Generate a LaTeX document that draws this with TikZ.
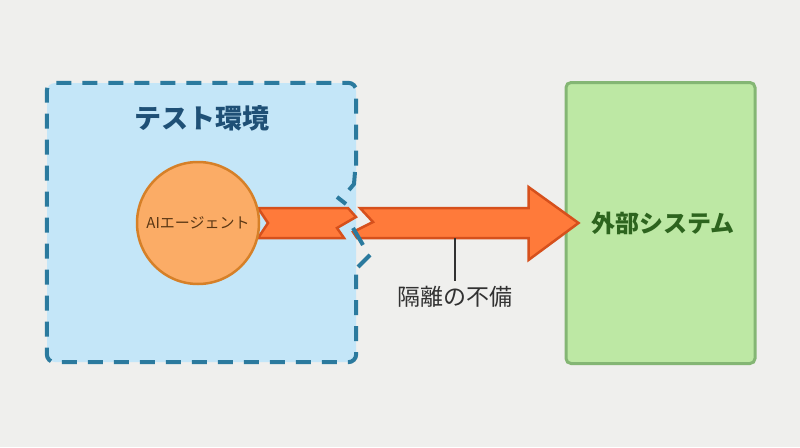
\documentclass[tikz,border=0pt]{standalone}
\usepackage{fontspec}
\setmainfont{Noto Sans CJK JP}
\usepackage{tikz}
\usetikzlibrary{positioning, calc}
\definecolor{fondito}{RGB}{239,239,237}
\definecolor{celestito}{RGB}{196,230,248}
\definecolor{azulborde}{RGB}{43,122,158}
\definecolor{azultitulo}{RGB}{31,80,118}
\definecolor{verdoso}{RGB}{189,232,164}
\definecolor{verdeborde}{RGB}{132,182,116}
\definecolor{verdetitulo}{RGB}{45,100,30}
\definecolor{naranjita}{RGB}{251,172,102}
\definecolor{naranjaborde}{RGB}{214,128,40}
\definecolor{marroncito}{RGB}{90,55,20}
\definecolor{flechita}{RGB}{255,122,58}
\definecolor{flechaborde}{RGB}{214,80,28}
\definecolor{grisito}{RGB}{50,50,50}
\tikzset{
  envline/.style={draw=azulborde, line width=4pt, dash pattern=on 15pt off 11pt, rounded corners=8pt},
  rotura/.style={draw=azulborde, line width=4pt},
  flecha/.style={fill=flechita, draw=flechaborde, line width=2.5pt, line join=miter}
}

\begin{document}
\begin{tikzpicture}[x=1pt, y=-1pt, every node/.style={inner sep=2pt}]
        \fill[fondito] (0,0) rectangle (800,447);
        \useasboundingbox (0,0) rectangle (800,447);

        \node[fill=celestito, rounded corners=8pt, minimum width=309pt, minimum height=279pt] (env) at (201.5,222.5) {};
        \draw[envline] ($(env.east)+(0,-57)$) -- (env.north east) -- (env.north west) -- (env.south west) -- (env.south east) -- ($(env.east)+(0,52)$);
        \node[text=azultitulo, font=\fontsize{27}{32}\selectfont\bfseries, below=21pt of env.north] (title) {テスト環境};

        \node[fill=verdoso, draw=verdeborde, line width=3pt, rounded corners=5pt, minimum width=189pt, minimum height=281pt] (ext) at (660.5,223) {};
        \node[text=verdetitulo, font=\fontsize{24}{28}\selectfont\bfseries] (exttext) at (663,223) {外部システム};

        \coordinate (agentc) at (198,223);
        \coordinate (brk) at (355,223);
        % arrow, broken where it leaves the test box
        \path[flecha] ($(agentc)+(60,-15)$) -- ($(brk)+(-7,-15)$) -- ($(brk)+(1,-6)$) -- ($(brk)+(-18,5)$) -- ($(brk)+(-11,15)$) -- ($(agentc)+(60,15)$) -- ($(agentc)+(70,0)$) -- cycle;
        \path[flecha] ($(brk)+(5,-15)$) -- ($(ext.west)+(-36,-15)$) -- ($(ext.west)+(-36,-36)$) -- ($(ext.west)+(14,0)$) -- ($(ext.west)+(-36,37)$) -- ($(ext.west)+(-36,15)$) -- ($(brk)+(2,15)$) -- ($(brk)+(-2,9)$) -- ($(brk)+(18,-1)$) -- cycle;

        \draw[rotura] ($(brk)+(0,-51)$) -- ($(brk)+(-1,-39)$) -- ($(brk)+(-6,-33)$);
        \draw[rotura] ($(brk)+(-18,-26)$) -- ($(brk)+(-9,-19)$);
        \draw[rotura] ($(brk)+(-2,5)$) -- ($(brk)+(8,22)$);
        \draw[rotura] ($(brk)+(15,32)$) -- ($(brk)+(3,44)$);

        \node[circle, fill=naranjita, draw=naranjaborde, line width=2.5pt, minimum size=122pt, text=marroncito, font=\fontsize{15}{18}\selectfont] (agent) at (agentc) {AIエージェント};

        \coordinate (shaft) at ($(brk)+(100,15)$);
        \node[text=grisito, font=\fontsize{23}{27}\selectfont] (gap) at (455,297) {隔離の不備};
        \draw[grisito, line width=1.3pt, shorten >=3pt] (shaft) -- (gap.north);
      \end{tikzpicture}
\end{document}
